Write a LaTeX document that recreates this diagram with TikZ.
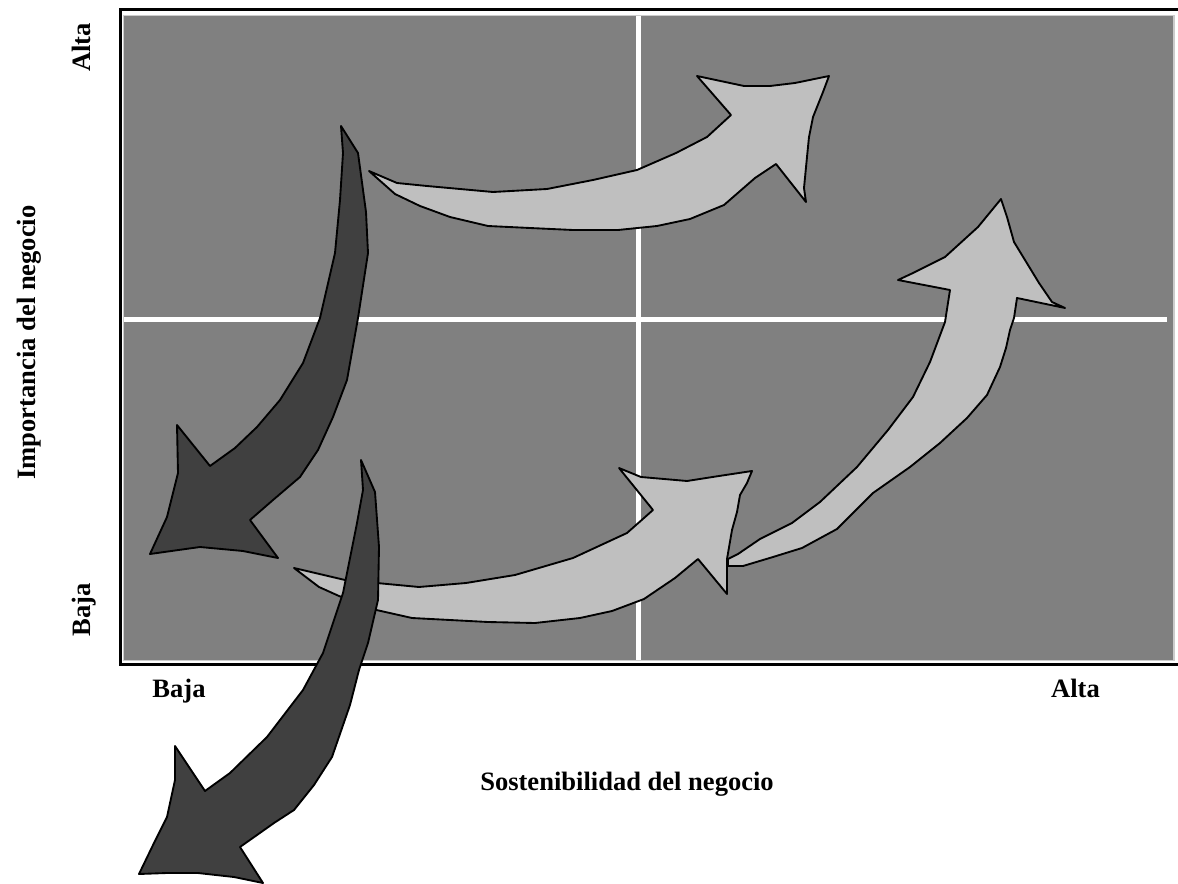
\documentclass[tikz,border=0pt]{standalone}
\usepackage{fontspec}
\setmainfont{Liberation Serif}
\usepackage{tikz}
\tikzstyle{quadrant}=[fill=black!50, draw=black!20, line width=0.8pt]
\tikzstyle{divider}=[draw=white, line width=3.2pt]
\tikzstyle{frame}=[draw=black, line width=2.1pt]
\tikzstyle{move}=[draw=black, line width=1.4pt, line join=round]
\tikzstyle{uparrow}=[move, fill=black!25]
\tikzstyle{downarrow}=[move, fill=black!75]
\tikzstyle{axislabel}=[font=\fontsize{19.9}{24}\selectfont\bfseries, inner sep=0pt, anchor=base]

\begin{document}
\begin{tikzpicture}[x=0.75pt,y=-0.75pt]
  \useasboundingbox (0,0) rectangle (1178,884);

  \path[quadrant] (123.3,15.8) rectangle (1174,660.5);
  \draw[divider] (638.5,16.5) -- (638.5,660);
  \draw[divider] (124,319.5) -- (1167,319.5);
  \draw[frame] (1178,9.7) -- (120.2,9.7) -- (120.2,664.3) -- (1178,664.3);

  \node[axislabel]           (xlow)   at (179,697)    {Baja};
  \node[axislabel]           (xhigh)  at (1075.5,697) {Alta};
  \node[axislabel]           (xtitle) at (627,790)    {Sostenibilidad del negocio};
  \node[axislabel,rotate=90] (ylow)   at (90,610)     {Baja};
  \node[axislabel,rotate=90] (yhigh)  at (90,47.5)    {Alta};
  \node[axislabel,rotate=90] (ytitle) at (35,342.5)   {Importancia del negocio};

  % top: low quadrant -> high quadrant
  \draw[uparrow] (369,171) -- (397,183) -- (427,186) -- (493,192) -- (547,189) -- (593,180)
    -- (637,170) -- (676,153) -- (707,137) -- (731,115) -- (697,76) -- (744,86) -- (770,86)
    -- (795,83) -- (829,76) -- (823,92) -- (813,117) -- (809,137) -- (807,157) -- (804,188)
    -- (806,202) -- (776,164) -- (755,178) -- (724,205) -- (690,219) -- (657,226) -- (618,230)
    -- (573,230) -- (530,228) -- (488,226) -- (450,217) -- (420,206) -- (395,194) -- cycle;

  \draw[downarrow] (341,126) -- (358,153) -- (366,212) -- (368,253) -- (358,318) -- (347,380)
    -- (333,417) -- (318,450) -- (300,477) -- (273,500) -- (250,520) -- (278,558) -- (243,551)
    -- (200,547) -- (150,554) -- (167,517) -- (178,473) -- (177,425) -- (210,466) -- (235,448)
    -- (257,427) -- (280,400) -- (303,363) -- (320,318) -- (335,253) -- (340,200) -- (343,153) -- cycle;

  % bottom: two steps up to the right
  \draw[uparrow] (728,566) -- (743,566) -- (773,557) -- (802,548) -- (837,529) -- (873,493)
    -- (910,467) -- (940,443) -- (967,418) -- (987,395) -- (1000,367) -- (1006,348) -- (1010,330)
    -- (1014,318) -- (1017,298) -- (1065,308) -- (1052,302) -- (1039,283) -- (1014,242)
    -- (1007,217) -- (1001,199) -- (978,227) -- (945,257) -- (913,273) -- (898,280) -- (950,290)
    -- (945,322) -- (942,330) -- (930,362) -- (913,397) -- (888,430) -- (857,467) -- (820,502)
    -- (792,523) -- (760,539) -- (738,554) -- (728,559) -- cycle;

  \draw[uparrow] (294,568) -- (345,580) -- (419,587) -- (466,583) -- (515,575) -- (573,558)
    -- (627,533) -- (653,510) -- (619,468) -- (641,477) -- (687,481) -- (719,476) -- (752,471)
    -- (747,483) -- (740,495) -- (737,512) -- (732,530) -- (727,559) -- (727,594) -- (698,559)
    -- (675,578) -- (644,599) -- (612,611) -- (580,618) -- (535,623) -- (488,622) -- (412,618)
    -- (372,609) -- (339,596) -- (319,587) -- cycle;

  \draw[downarrow] (361,460) -- (375,492) -- (379,547) -- (378,600) -- (368,643) -- (359,670)
    -- (350,705) -- (332,757) -- (314,785) -- (294,810) -- (274,823) -- (240,847) -- (263,883)
    -- (234,877) -- (198,873) -- (167,873) -- (139,874) -- (154,843) -- (167,817) -- (175,780)
    -- (175,746) -- (205,791) -- (230,773) -- (267,737) -- (303,690) -- (323,653) -- (343,593)
    -- (352,548) -- (357,523) -- (363,490) -- cycle;
\end{tikzpicture}
\end{document}
